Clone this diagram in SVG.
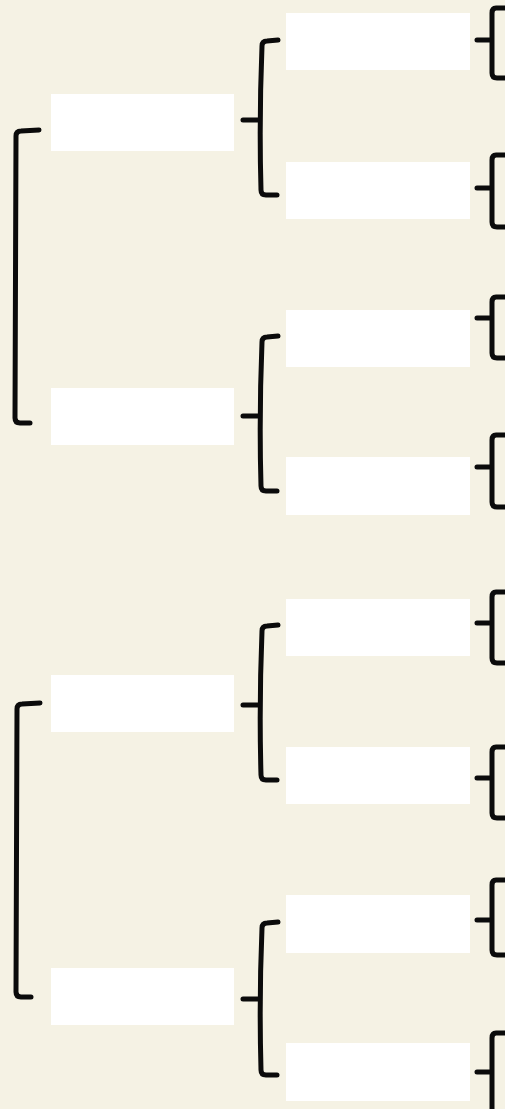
<svg xmlns="http://www.w3.org/2000/svg" width="505" height="1109" viewBox="0 0 505 1109">
<style>
.bg{fill:#f5f2e4}
.box{fill:#ffffff}
.br{fill:none;stroke:#0b0b0b;stroke-width:5;stroke-linecap:round;stroke-linejoin:round}
</style>
<rect class="bg" x="0" y="0" width="505" height="1109"/>
<g id="connectors">
  <path class="br" d="M39,130 L21,131 Q16,131 16,136 L15,418 Q15,423 20,423 L30,423"/>
  <path class="br" d="M40,703 L22,704 Q17,704 17,709 L16,992 Q16,997 21,997 L31,997"/>
  <path class="br" d="M278,40 L267,41 Q262,41 262,46 Q259,120 261,190 Q261,195 266,195 L277,195 M243,120 L260,120"/>
  <path class="br" d="M278,336 L267,337 Q262,337 262,342 Q259,416 261,486 Q261,491 266,491 L277,491 M243,416 L260,416"/>
  <path class="br" d="M278,625 L267,626 Q262,626 262,631 Q259,705 261,775 Q261,780 266,780 L277,780 M243,705 L260,705"/>
  <path class="br" d="M278,922 L267,923 Q262,923 262,928 Q259,999 261,1070 Q261,1075 266,1075 L277,1075 M243,999 L260,999"/>
  <path class="br" d="M508,8 L496,8 Q492,8 492,13 L492,73 Q492,78 497,78 L508,78 M477,40 L491,40"/>
  <path class="br" d="M508,155 L496,155 Q492,155 492,160 L492,222 Q492,227 497,227 L508,227 M477,188 L491,188"/>
  <path class="br" d="M508,297 L496,297 Q492,297 492,302 L492,353 Q492,358 497,358 L508,358 M477,318 L491,318"/>
  <path class="br" d="M508,435 L496,435 Q492,435 492,440 L492,502 Q492,507 497,507 L508,507 M477,467 L491,467"/>
  <path class="br" d="M508,592 L496,592 Q492,592 492,597 L492,658 Q492,663 497,663 L508,663 M477,623 L491,623"/>
  <path class="br" d="M508,747 L496,747 Q492,747 492,752 L492,813 Q492,818 497,818 L508,818 M477,778 L491,778"/>
  <path class="br" d="M508,880 L496,880 Q492,880 492,885 L492,950 Q492,955 497,955 L508,955 M477,920 L491,920"/>
  <path class="br" d="M508,1033 L496,1033 Q492,1033 492,1038 L492,1115 M477,1072 L491,1072"/>
</g>
<g id="gen1-a"><rect class="box" x="51" y="94" width="183" height="57"/></g>
<g id="gen1-b"><rect class="box" x="51" y="388" width="183" height="57"/></g>
<g id="gen1-c"><rect class="box" x="51" y="675" width="183" height="57"/></g>
<g id="gen1-d"><rect class="box" x="51" y="968" width="183" height="57"/></g>
<g id="gen2-a"><rect class="box" x="286" y="13" width="184" height="57"/></g>
<g id="gen2-b"><rect class="box" x="286" y="162" width="184" height="57"/></g>
<g id="gen2-c"><rect class="box" x="286" y="310" width="184" height="57"/></g>
<g id="gen2-d"><rect class="box" x="286" y="457" width="184" height="58"/></g>
<g id="gen2-e"><rect class="box" x="286" y="599" width="184" height="57"/></g>
<g id="gen2-f"><rect class="box" x="286" y="747" width="184" height="57"/></g>
<g id="gen2-g"><rect class="box" x="286" y="895" width="184" height="58"/></g>
<g id="gen2-h"><rect class="box" x="286" y="1043" width="184" height="58"/></g>
</svg>
